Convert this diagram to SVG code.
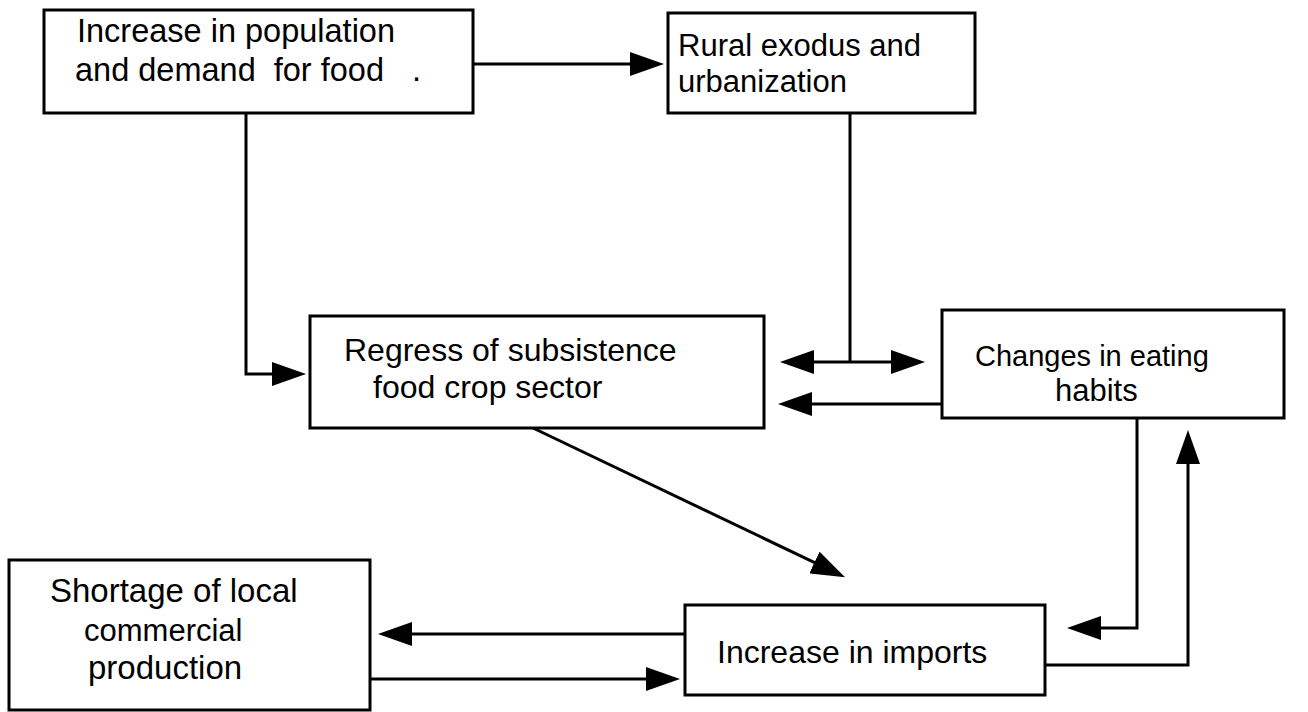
<svg xmlns="http://www.w3.org/2000/svg" width="1308" height="712" viewBox="0 0 1308 712">
<style>
  .box { fill: #ffffff; stroke: #000000; stroke-width: 3; }
  .lbl { font-family: "Liberation Sans", Arial, Helvetica, sans-serif; font-size: 31px; fill: #000000; white-space: pre; }
  .con { fill: none; stroke: #000000; stroke-width: 3; }
  .arr { marker-end: url(#head); }
  .dbl { marker-start: url(#head); marker-end: url(#head); }
</style>
<defs>
  <marker id="head" viewBox="0 0 34 24" markerWidth="34" markerHeight="24" markerUnits="userSpaceOnUse" refX="2" refY="12" orient="auto-start-reverse">
    <path d="M0,0 L34,12 L0,24 z" fill="#000000"/>
  </marker>
</defs>
<rect width="1308" height="712" fill="#ffffff"/>

<g id="connectors">
  <path class="con arr" d="M473,64 H632"/>
  <path class="con arr" d="M246,113 V374 H274"/>
  <path class="con" d="M850,113 V362"/>
  <path class="con dbl" d="M812,362 H893"/>
  <path class="con arr" d="M942,404 H810"/>
  <path class="con arr" d="M533,428 L816.2,563.4"/>
  <path class="con arr" d="M1137,418 V628 H1099"/>
  <path class="con arr" d="M1045,665 H1188 V462"/>
  <path class="con arr" d="M685,634 H410"/>
  <path class="con arr" d="M370,679 H648"/>
</g>

<g id="node-population">
  <rect class="box" x="44" y="10" width="429" height="103"/>
  <text class="lbl" x="77" y="42" style="font-size:32.5px">Increase in population</text>
  <text class="lbl" x="75" y="81" style="font-size:32.5px">and demand  for food<tspan x="412">.</tspan></text>
</g>

<g id="node-rural">
  <rect class="box" x="668" y="13" width="307" height="100"/>
  <text class="lbl" x="678" y="56">Rural exodus and</text>
  <text class="lbl" x="678" y="92">urbanization</text>
</g>

<g id="node-regress">
  <rect class="box" x="310" y="316" width="454" height="112"/>
  <text class="lbl" x="344" y="361" style="font-size:32px">Regress of subsistence</text>
  <text class="lbl" x="373" y="398" style="font-size:32px">food crop sector</text>
</g>

<g id="node-changes">
  <rect class="box" x="942" y="310" width="342" height="108"/>
  <text class="lbl" x="975" y="366" style="font-size:29px">Changes in eating</text>
  <text class="lbl" x="1055" y="401" style="font-size:31px">habits</text>
</g>

<g id="node-imports">
  <rect class="box" x="685" y="605" width="360" height="90"/>
  <text class="lbl" x="717" y="663" style="font-size:32px">Increase in imports</text>
</g>

<g id="node-shortage">
  <rect class="box" x="9" y="560" width="361" height="150"/>
  <text class="lbl" x="50" y="602" style="font-size:33px">Shortage of local</text>
  <text class="lbl" x="84" y="641" style="font-size:31px">commercial</text>
  <text class="lbl" x="88" y="679" style="font-size:33px">production</text>
</g>
</svg>
